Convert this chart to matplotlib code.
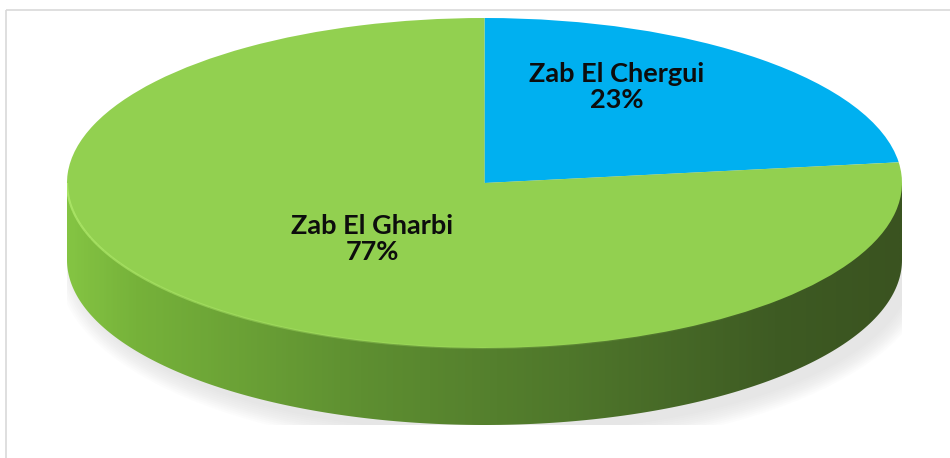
import numpy as np
import matplotlib.pyplot as plt
from matplotlib.path import Path
from matplotlib.patches import PathPatch, Ellipse, Rectangle
from matplotlib.colors import LinearSegmentedColormap

# data
labels = ["Zab El Chergui", "Zab El Gharbi"]
shares = [23, 77]
colors = ["#00b0f0", "#92d050"]

W, H = 950, 458
fig = plt.figure(figsize=(W / 100, H / 100), dpi=100)

# thin grey frame around the chart area
frame = fig.add_axes([0, 0, 1, 1])
frame.set_xlim(0, W)
frame.set_ylim(H, 0)
frame.axis("off")
frame.add_patch(Rectangle((6, 10), W + 10, H + 10, fill=False, ec="#d9d9d9", lw=1.2))

# pie geometry in pixels (top face ellipse + side thickness)
left, right, top, bottom_face = 67, 902, 18, 348
depth_px = 77
ry_px = (bottom_face - top) / 2
d = depth_px / ry_px
ax = fig.add_axes([left / W, (H - bottom_face - depth_px) / H,
                   (right - left) / W, (bottom_face - top + depth_px) / H])

# soft shadow under the pie
for i in range(10):
    ax.add_patch(Ellipse((0.025, -d - 0.05), 2.0 + i * 0.01, 2.0 + i * 0.025,
                         color="#8a8a8a", alpha=0.02, lw=0, zorder=0))

# side of the cylinder with horizontal shading
th = np.linspace(np.pi, 2 * np.pi, 200)
verts = list(zip(np.cos(th), -d + np.sin(th))) + [(1, 0), (-1, 0)]
side_path = Path(verts + [verts[0]], [Path.MOVETO] + [Path.LINETO] * (len(verts) - 1) + [Path.CLOSEPOLY])
side_clip = PathPatch(side_path, fc="none", ec="none")
ax.add_patch(side_clip)
side_cmap = LinearSegmentedColormap.from_list(
    "side", [(0, "#84c443"), (0.08, "#76b23a"), (0.35, "#5e8f31"),
             (0.6, "#4f772b"), (0.85, "#3e5b23"), (1, "#3a5320")])
grad = np.linspace(0, 1, 400).reshape(1, -1)
img = ax.imshow(grad, extent=[-1, 1, -1 - d, 0], cmap=side_cmap, aspect="auto",
                origin="lower", zorder=1)
img.set_clip_path(side_clip)

# top face
wedges, _ = ax.pie(shares, colors=colors, startangle=90, counterclock=False,
                   radius=1, center=(0, 0), frame=True,
                   wedgeprops=dict(lw=0, zorder=2))
ax.set_aspect("auto")
ax.set_xlim(-1, 1)
ax.set_ylim(-1 - d, 1)
ax.axis("off")

# light rim along the front edge of the top face, fading to the right
rim = np.linspace(np.pi * 1.0, np.pi * 1.8, 60)
for a0, a1 in zip(rim[:-1], rim[1:]):
    fade = max(0.0, 1 - (a0 - np.pi) / (0.8 * np.pi)) ** 1.5
    seg = np.linspace(a0, a1, 5)
    ax.plot(np.cos(seg), np.sin(seg), color="#aee86a", lw=1.6, alpha=0.9 * fade,
            zorder=3, solid_capstyle="butt")

# labels on an overlay in pixel coordinates
over = fig.add_axes([0, 0, 1, 1])
over.set_xlim(0, W)
over.set_ylim(H, 0)
over.axis("off")
font = dict(family=["Lato", "DejaVu Sans"], fontweight="bold", fontsize=19.5,
            color="#0d0d0d", ha="center", va="center", linespacing=1.1)
over.text(617, 87, f"{labels[0]}\n{shares[0]}%", **font)
over.text(372, 239, f"{labels[1]}\n{shares[1]}%", **font)

fig.savefig("out.png", dpi=100)
